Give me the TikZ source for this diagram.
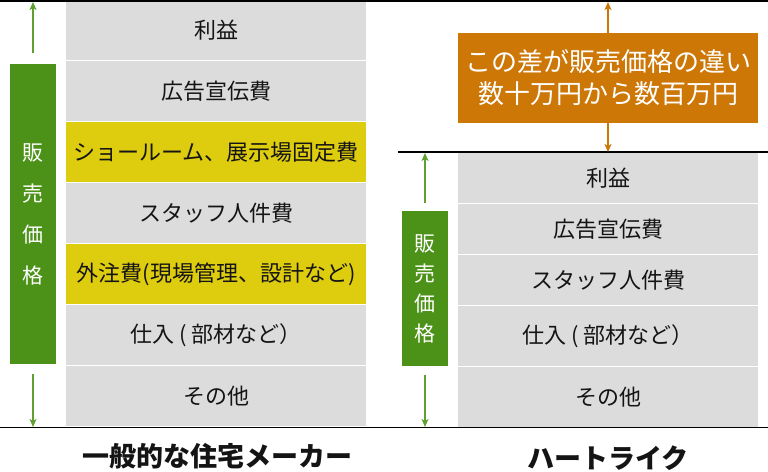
\documentclass[tikz,border=0pt]{standalone}
\usepackage{fontspec}
\setmainfont{Noto Sans CJK JP}
\usetikzlibrary{arrows.meta}
\definecolor{cellgray}{RGB}{220,220,220}
\definecolor{cellyellow}{RGB}{222,204,14}
\definecolor{bargreen}{RGB}{76,146,24}
\definecolor{arrgreen}{RGB}{96,160,50}
\definecolor{difforange}{RGB}{205,119,7}
\definecolor{txt}{RGB}{20,20,20}
\begin{document}
\begin{tikzpicture}[x=1pt,y=-1pt,
  cell/.style={anchor=north west,minimum width=300pt,inner sep=0pt,outer sep=0pt,
    fill=cellgray,text=txt,font=\fontsize{22}{25}\selectfont},
  hl/.style={cell,fill=cellyellow},
  bar/.style={fill=bargreen,text=white,minimum width=46pt,inner sep=0pt,outer sep=0pt,align=center},
  garrow/.style={draw=arrgreen,line width=1.8pt,-{Stealth[length=8pt,width=7pt,inset=2pt]}},
  oarrow/.style={draw=difforange,line width=1.8pt,-{Stealth[length=8pt,width=7pt,inset=2pt]}},
  rule/.style={draw=black,line width=1.5pt},
  title/.style={font=\fontsize{27}{30}\selectfont\bfseries,text=txt}]
\useasboundingbox (0,0) rectangle (768,471);
% left column
\node[cell,minimum height=60pt] (l1) at (66,0) {利益};
\node[cell,minimum height=60pt] (l2) at (66,61) {広告宣伝費};
\node[hl,minimum height=60pt] (l3) at (66,122) {ショールーム、展示場固定費};
\node[cell,minimum height=60pt] (l4) at (66,183) {スタッフ人件費};
\node[hl,minimum height=60pt] (l5) at (66,244) {外注費(現場管理、設計など)};
\node[cell,minimum height=60pt] (l6) at (66,305) {仕入 ( 部材など）};
\node[cell,minimum height=60pt] (l7) at (66,366) {その他};
% right column
\node[cell,minimum height=50pt] (r1) at (458,153) {利益};
\node[cell,minimum height=50pt] (r2) at (458,204) {広告宣伝費};
\node[cell,minimum height=50pt] (r3) at (458,255) {スタッフ人件費};
\node[cell,minimum height=60pt] (r4) at (458,306) {仕入 ( 部材など）};
\node[cell,minimum height=60pt] (r5) at (458,367) {その他};
% rules
\coordinate (tl) at (0,0.75); \coordinate (tr) at (768,0.75);
\coordinate (ml) at (398,152); \coordinate (mr) at (768,152);
\coordinate (bl) at (0,427.5); \coordinate (br) at (768,427.5);
\draw[rule] (tl) -- (tr);
\draw[rule] (ml) -- (mr);
\draw[rule] (bl) -- (br);
% left bar
\node[bar,minimum height=300pt,font=\fontsize{21}{41}\selectfont] (lbar) at (33,214) {販\\売\\価\\格};
\coordinate (ltop) at (33,2); \coordinate (lbot) at (33,427);
\draw[garrow] ([yshift=11pt]lbar.north) -- (ltop);
\draw[garrow] ([yshift=-10pt]lbar.south) -- (lbot);
% right bar
\node[bar,minimum height=155pt,font=\fontsize{21}{30}\selectfont] (rbar) at (425,288.5) {販\\売\\価\\格};
\coordinate (rtop) at (425,153); \coordinate (rbot) at (425,427);
\draw[garrow] ([yshift=8pt]rbar.north) -- (rtop);
\draw[garrow] ([yshift=-9pt]rbar.south) -- (rbot);
% difference box
\node[fill=difforange,text=white,minimum width=300pt,minimum height=90pt,inner sep=0pt,
  align=center,font=\fontsize{26}{32}\selectfont] (diff) at (608,78) {この差が販売価格の違い\\数十万円から数百万円};
\coordinate (dtop) at (608,2); \coordinate (dbot) at (608,152);
\draw[oarrow] (diff.north) -- (dtop);
\draw[oarrow] (diff.south) -- (dbot);
% titles
\node[title] (t1) at (217,456) {一般的な住宅メーカー};
\node[title] (t2) at (608,458) {ハートライク};
\end{tikzpicture}
\end{document}
